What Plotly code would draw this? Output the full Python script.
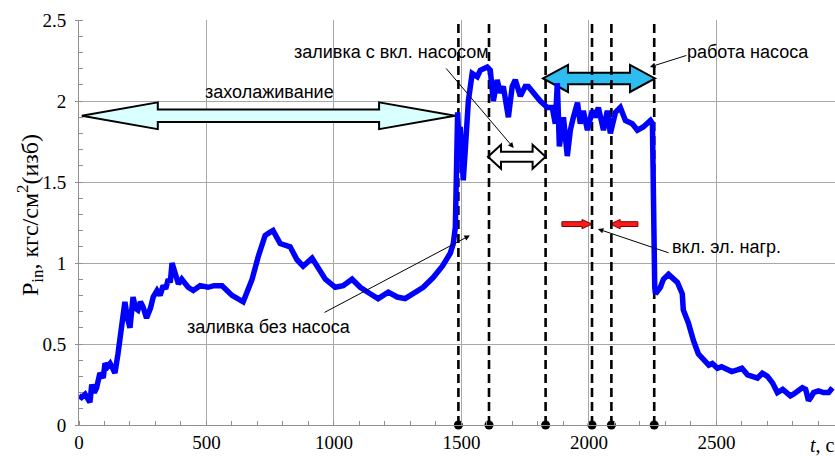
import plotly.graph_objects as go

# ---------------- data ----------------
time_s = [0, 10, 24, 35, 43, 50, 60, 69, 82, 95, 102, 112, 122, 132, 141, 153, 163, 173, 180, 190,
          200, 212, 222, 231, 241, 251, 265, 280, 291, 306, 318, 330, 340, 350, 358, 365, 377, 390,
          403, 428, 448, 475, 506, 530, 561, 600, 644, 660, 679, 703, 730, 750, 761, 789, 828, 855,
          879, 914, 938, 966, 1005, 1036, 1071, 1103, 1142, 1173, 1213, 1248, 1279, 1311, 1350,
          1389, 1425, 1456, 1468, 1476, 1480, 1485, 1488, 1495, 1502, 1507, 1515, 1527, 1542, 1562,
          1574, 1601, 1613, 1625, 1640, 1652, 1664, 1684, 1699, 1711, 1731, 1750, 1762, 1782, 1809,
          1837, 1856, 1868, 1876, 1884, 1900, 1915, 1927, 1939, 1955, 1966, 1978, 1994, 2013, 2025,
          2037, 2057, 2072, 2084, 2104, 2123, 2143, 2170, 2190, 2213, 2241, 2249, 2253, 2258, 2261,
          2280, 2292, 2312, 2347, 2366, 2370, 2390, 2410, 2429, 2440, 2457, 2470, 2484, 2504, 2520,
          2543, 2560, 2582, 2600, 2622, 2640, 2661, 2680, 2700, 2720, 2739, 2760, 2779, 2790, 2802,
          2820, 2837, 2850, 2861, 2870, 2881, 2900, 2920, 2940, 2955]
p_in = [0.18, 0.17, 0.19, 0.15, 0.14, 0.25, 0.20, 0.23, 0.32, 0.29, 0.38, 0.36, 0.38, 0.35, 0.32,
        0.44, 0.55, 0.65, 0.76, 0.66, 0.60, 0.79, 0.72, 0.71, 0.76, 0.73, 0.66, 0.72, 0.79, 0.83,
        0.80, 0.86, 0.84, 0.90, 0.88, 1.00, 0.94, 0.87, 0.90, 0.85, 0.83, 0.86, 0.85, 0.86, 0.86,
        0.80, 0.76, 0.82, 0.90, 1.04, 1.17, 1.19, 1.20, 1.12, 1.10, 1.02, 0.98, 1.03, 0.97, 0.90,
        0.85, 0.86, 0.90, 0.85, 0.81, 0.78, 0.82, 0.79, 0.78, 0.81, 0.85, 0.91, 0.98, 1.06, 1.12,
        1.22, 1.50, 1.93, 1.82, 1.84, 1.62, 1.51, 1.70, 2.00, 2.17, 2.15, 2.19, 2.21, 2.19, 2.00,
        2.13, 2.05, 2.09, 1.90, 2.09, 2.13, 2.03, 2.09, 2.09, 2.05, 2.00, 1.96, 1.96, 1.86, 2.11,
        1.72, 1.90, 1.66, 1.82, 1.90, 1.99, 1.86, 1.94, 1.82, 1.94, 1.90, 1.96, 1.82, 1.94, 1.80,
        1.93, 1.96, 1.88, 1.86, 1.82, 1.84, 1.88, 1.86, 1.20, 0.85, 0.81, 0.85, 0.90, 0.93, 0.88,
        0.81, 0.71, 0.63, 0.52, 0.44, 0.42, 0.39, 0.37, 0.38, 0.35, 0.36,
        0.34, 0.33, 0.34, 0.35, 0.31, 0.30, 0.29, 0.32, 0.30, 0.26, 0.20, 0.22, 0.20, 0.18, 0.19,
        0.21, 0.23, 0.22, 0.15, 0.17, 0.20, 0.21, 0.20, 0.20, 0.23]

event_times = [1488, 1608, 1830, 2012, 2088, 2256]

x_ticks = [0, 500, 1000, 1500, 2000, 2500]
y_ticks = [0, 0.5, 1, 1.5, 2, 2.5]

# ---------------- layout geometry ----------------
W, H = 835, 456
ML, MR, MT, MB = 79, 0, 20, 31
X_RANGE = [0, 2965]
Y_RANGE = [0, 2.5]
XS = (W - ML - MR) / (X_RANGE[1] - X_RANGE[0])   # px per second
YS = (H - MT - MB) / (Y_RANGE[1] - Y_RANGE[0])   # px per unit


def dbl_arrow(x0, x1, yc, hb, hh, hl):
    """Double block arrow path; hb, hh, hl in pixels."""
    b, h, l = hb / YS, hh / YS, hl / XS
    pts = [(x0, yc), (x0 + l, yc + h), (x0 + l, yc + b), (x1 - l, yc + b), (x1 - l, yc + h),
           (x1, yc), (x1 - l, yc - h), (x1 - l, yc - b), (x0 + l, yc - b), (x0 + l, yc - h)]
    return "M " + " L ".join(f"{px},{py}" for px, py in pts) + " Z"


def one_arrow(x_tail, x_tip, yc, hb, hh, hl):
    b, h = hb / YS, hh / YS
    l = hl / XS * (1 if x_tip > x_tail else -1)
    pts = [(x_tail, yc + b), (x_tip - l, yc + b), (x_tip - l, yc + h), (x_tip, yc),
           (x_tip - l, yc - h), (x_tip - l, yc - b), (x_tail, yc - b)]
    return "M " + " L ".join(f"{px},{py}" for px, py in pts) + " Z"


fig = go.Figure()

# dashed event lines
for t in event_times:
    fig.add_trace(go.Scatter(x=[t, t], y=[Y_RANGE[0], Y_RANGE[1]], mode="lines",
                             line=dict(color="black", width=2.6, dash="9px,5px"),
                             hoverinfo="skip", showlegend=False))

fig.add_trace(go.Scatter(x=time_s, y=p_in, mode="lines",
                         line=dict(color="#0000FF", width=5.5), showlegend=False))

fig.add_trace(go.Scatter(x=event_times, y=[0] * len(event_times), mode="markers",
                         marker=dict(color="black", size=9), cliponaxis=False,
                         hoverinfo="skip", showlegend=False))

shapes = [
    dict(type="path", path=dbl_arrow(11, 1475, 1.909, 6.2, 13.4, 76),
         fillcolor="#D9FFFF", line=dict(color="black", width=2), layer="between"),
    dict(type="path", path=dbl_arrow(1820, 2259, 2.139, 5.7, 13.5, 25),
         fillcolor="#2DBDF0", line=dict(color="black", width=2), layer="between"),
    dict(type="path", path=dbl_arrow(1604, 1830, 1.656, 5, 12, 13),
         fillcolor="white", line=dict(color="black", width=2), layer="between"),
    dict(type="path", path=one_arrow(1894, 2012, 1.24, 2.4, 4.6, 10),
         fillcolor="#FF1A1A", line=dict(color="#7A0000", width=1), layer="between"),
    dict(type="path", path=one_arrow(2192, 2083, 1.24, 2.4, 4.6, 10),
         fillcolor="#FF1A1A", line=dict(color="#7A0000", width=1), layer="between"),
]

lab_font = dict(family="Liberation Sans, Arial", size=18, color="black")
annotations = [
    dict(x=749, y=2.056, text="захолаживание", showarrow=False, font=lab_font),
    dict(x=1224, y=2.30, text="заливка с вкл. насосом", showarrow=False, font=lab_font),
    dict(x=2622, y=2.30, text="работа насоса", showarrow=False, font=lab_font),
    dict(x=2541, y=1.10, text="вкл. эл. нагр.", showarrow=False, font=lab_font),
    dict(x=745, y=0.605, text="заливка без насоса", showarrow=False, font=lab_font),
]
arrow_lines = [
    (1435, 2.21, 1705, 1.71),
    (2388, 2.284, 2239, 2.21),
    (2318, 1.06, 2035, 1.21),
    (957, 0.69, 1533, 1.17),
]
for ax_, ay_, x_, y_ in arrow_lines:
    annotations.append(dict(x=x_, y=y_, ax=ax_, ay=ay_, axref="x", ayref="y", xref="x", yref="y",
                            text="", showarrow=True, arrowhead=2, arrowsize=1.1, arrowwidth=1,
                            arrowcolor="black", standoff=0, startstandoff=0))

annotations.append(dict(xref="paper", yref="paper", x=(30 - ML) / (W - ML - MR),
                        y=(425 - 215) / (H - MT - MB),
                        text="P<sub>in</sub>, кгс/см<sup>2</sup>(изб)", textangle=-90,
                        showarrow=False, xanchor="center", yanchor="middle",
                        font=dict(family="Liberation Serif, Times New Roman", size=24, color="black")))
annotations.append(dict(xref="paper", yref="paper", x=(808 - ML) / (W - ML - MR),
                        y=(MT + (H - MT - MB) - 445) / (H - MT - MB),
                        text="<i>t</i>, с", showarrow=False, xanchor="left", yanchor="middle",
                        font=dict(family="Liberation Serif, Times New Roman", size=20, color="black")))

fig.update_layout(
    width=W, height=H,
    margin=dict(l=ML, r=MR, t=MT, b=MB, pad=0),
    plot_bgcolor="white", paper_bgcolor="white",
    shapes=shapes, annotations=annotations,
    font=dict(family="Liberation Serif, Times New Roman", size=19, color="black"),
    xaxis=dict(range=X_RANGE, tickvals=x_ticks, ticktext=[str(v) for v in x_ticks],
               showgrid=True, gridcolor="#A8A8A8", gridwidth=1, zeroline=False,
               showline=True, linecolor="#909090", linewidth=1,
               ticks="", minor=dict(dtick=100, ticks="inside", ticklen=4, tickcolor="#909090",
                                    showgrid=False),
               tickfont=dict(size=19)),
    yaxis=dict(range=Y_RANGE, tickvals=y_ticks, ticktext=["0", "0.5", "1", "1.5", "2", "2.5"],
               showgrid=True, gridcolor="#A8A8A8", gridwidth=1, zeroline=False,
               showline=True, linecolor="#909090", linewidth=1,
               ticks="outside", ticklen=3, tickcolor="#909090",
               minor=dict(dtick=0.1, ticks="inside", ticklen=4, tickcolor="#909090", showgrid=False),
               ticklabelstandoff=5, tickfont=dict(size=19)),
)

fig.write_html("out.html", config={"displayModeBar": False},
               post_script="document.body.style.margin='0';document.body.style.overflow='hidden';")
